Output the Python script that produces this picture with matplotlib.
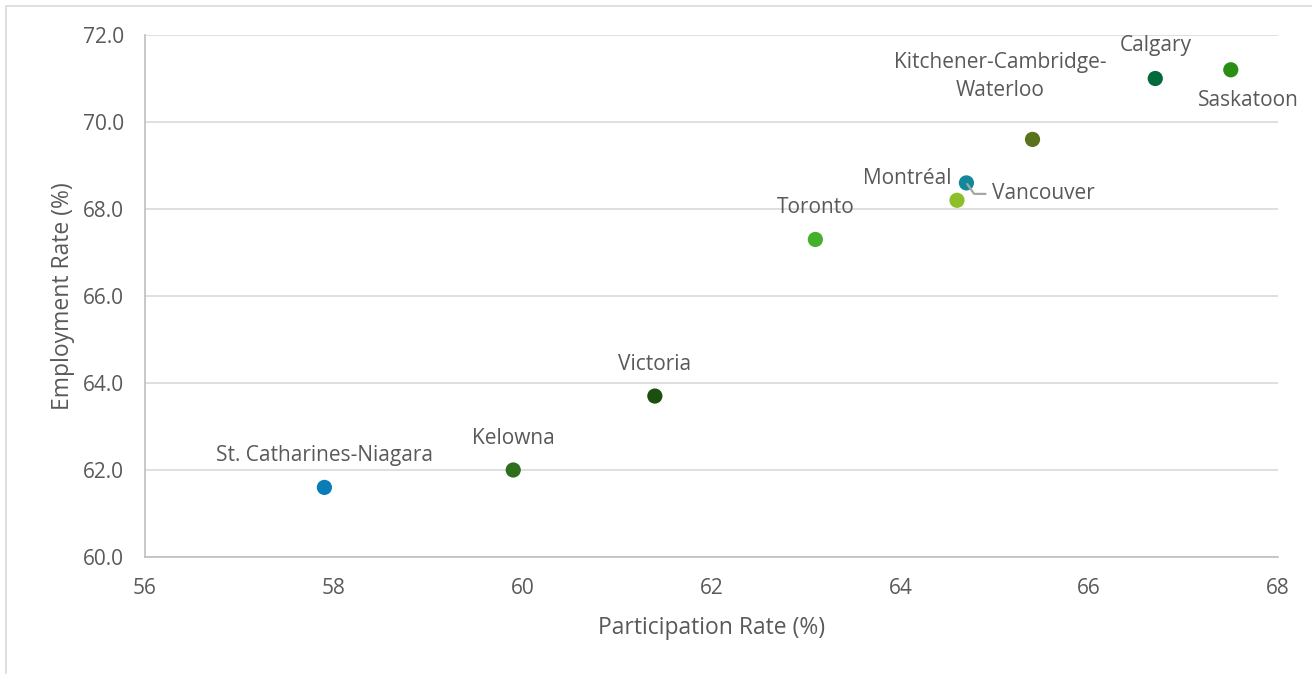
import matplotlib
matplotlib.use("Agg")
import matplotlib.pyplot as plt
from matplotlib.patches import Rectangle

plt.rcParams['font.family'] = ['Open Sans', 'DejaVu Sans']

# Labour market rates by census metropolitan area
cities = ["St. Catharines-Niagara", "Kelowna", "Victoria", "Toronto",
          "Montréal", "Vancouver", "Kitchener-Cambridge-\nWaterloo",
          "Calgary", "Saskatoon"]
participation = [57.9, 59.9, 61.4, 63.1, 64.6, 64.7, 65.4, 66.7, 67.5]
employment = [61.6, 62.0, 63.7, 67.3, 68.2, 68.6, 69.6, 71.0, 71.2]
colors = ["#0a7db8", "#2e6e1f", "#1b4f0e", "#45b02b", "#8cbf2a",
          "#13889a", "#5a731a", "#036b3b", "#2a8d14"]

# label offsets in pixels from each point
offsets = [(0, 32), (0, 32), (0, 32), (0, 32), (-50, 22),
           (0, 0), (-32, 63), (0, 33), (18, -31)]

text_col = "#595959"

fig = plt.figure(figsize=(13.12, 6.74), dpi=100)
fig.patches.append(Rectangle((6 / 1312, -0.1), 1.2, (674 - 6) / 674 + 0.1,
                             transform=fig.transFigure, fill=False,
                             edgecolor="#d9d9d9", lw=1.2))
ax = fig.add_axes([145 / 1312, (674 - 557) / 674,
                   (1278 - 145) / 1312, (557 - 35) / 674])

ax.scatter(participation, employment, s=120, c=colors, zorder=3,
           linewidths=0)

for name, x, y, (dx, dy) in zip(cities, participation, employment, offsets):
    if name == "Vancouver":
        continue
    ax.annotate(name, (x, y), xytext=(dx, dy), textcoords="offset pixels",
                ha="center", va="center", fontsize=15, color=text_col,
                linespacing=1.4)

# Vancouver label with a leader line back to its marker
i = cities.index("Vancouver")
ax.annotate("Vancouver", (participation[i], employment[i]),
            xytext=(26, -11), textcoords="offset pixels",
            ha="left", va="center", fontsize=15, color=text_col,
            arrowprops=dict(arrowstyle="-", color="#a6a6a6", lw=1.6,
                            connectionstyle="angle,angleA=0,angleB=-55,rad=0",
                            shrinkA=3, shrinkB=1))

ax.set_xlim(56, 68)
ax.set_ylim(60, 72)
ax.set_xticks(range(56, 69, 2))
ax.set_yticks(range(60, 73, 2))
ax.set_yticklabels([f"{v:.1f}" for v in range(60, 73, 2)])
ax.grid(axis="y", color="#d9d9d9", lw=1.2)
ax.set_axisbelow(True)
for side in ["top", "right"]:
    ax.spines[side].set_visible(False)
for side in ["left", "bottom"]:
    ax.spines[side].set_color("#bfbfbf")
    ax.spines[side].set_linewidth(1.2)
ax.tick_params(length=0, pad=15, labelsize=15, labelcolor=text_col)

ax.set_xlabel("Participation Rate (%)", fontsize=16.5, color=text_col,
              labelpad=12)
ax.set_ylabel("Employment Rate (%)", fontsize=16.5, color=text_col,
              labelpad=6)

fig.savefig("out.png", dpi=100)
